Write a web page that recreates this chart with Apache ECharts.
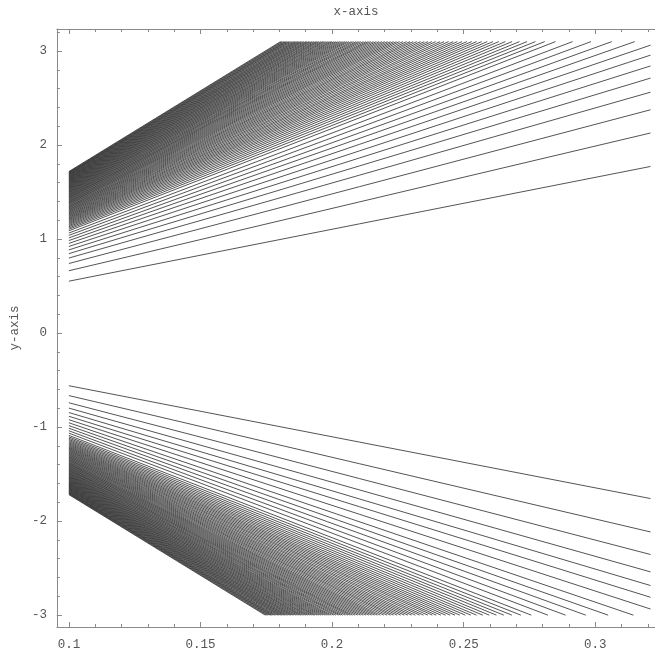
<!DOCTYPE html>
<html>
<head>
<meta charset="utf-8">
<script src="https://cdn.jsdelivr.net/npm/echarts@6/dist/echarts.min.js"></script>
<style>
html, body { margin: 0; padding: 0; background: #ffffff; }
#chart { width: 655px; height: 653px; }
</style>
</head>
<body>
<div id="chart"></div>
<script>
// ---------- data ----------
// every curve starts at x = 0.1
const startX = 0.1;
// right end of the curves that are not cut off
const rightX = 0.321;

// upper family: y at x = 0.1 (from the lowest curve to the highest)
const upperStartY = [0.552, 0.663, 0.740, 0.798, 0.845, 0.885, 0.921, 0.954, 0.984, 1.012,
  1.039, 1.064, 1.088,
  1.104, 1.118, 1.131, 1.143, 1.155, 1.166, 1.177, 1.187, 1.197, 1.207,
  1.216, 1.225, 1.234, 1.243, 1.252,
  1.260, 1.269, 1.278, 1.286, 1.295, 1.303, 1.311, 1.319, 1.327, 1.335,
  1.343, 1.350, 1.358, 1.366, 1.374, 1.381, 1.388, 1.395, 1.402, 1.409,
  1.416, 1.423, 1.430, 1.437, 1.444, 1.450, 1.456, 1.463, 1.470, 1.476,
  1.482, 1.489, 1.495, 1.502, 1.508, 1.514, 1.520, 1.526, 1.532, 1.538,
  1.544, 1.550, 1.555, 1.561, 1.567, 1.573, 1.578, 1.584, 1.590, 1.595,
  1.600, 1.606, 1.611, 1.617, 1.622, 1.627, 1.632, 1.638, 1.643, 1.648,
  1.653, 1.658, 1.663, 1.668, 1.673, 1.679, 1.684, 1.689, 1.694, 1.698,
  1.703, 1.708, 1.713, 1.718];
// y at the right edge for the first curves (they reach it)
const upperRightY = [1.772, 2.128, 2.375, 2.562, 2.712, 2.841, 2.956, 3.062];
// the other curves stop at the cut level; x where they stop
const upperCut = 3.1;
const upperHitX = [0.3150, 0.3063, 0.2984, 0.2914, 0.2849,
  0.28080, 0.27728, 0.27409, 0.27122, 0.26840, 0.26587, 0.26338, 0.26116, 0.25898, 0.25684,
  0.25493, 0.25306, 0.25122, 0.24940, 0.24760,
  0.24603, 0.24429, 0.24257, 0.24106, 0.23938, 0.23791, 0.23646, 0.23503, 0.23361, 0.23221,
  0.23083, 0.22963, 0.22828, 0.22694, 0.22562, 0.22447, 0.22334, 0.22222, 0.22111, 0.22001,
  0.21893, 0.21785, 0.21678, 0.21573, 0.21468, 0.21379, 0.21291, 0.21189, 0.21088, 0.21003,
  0.20918, 0.20819, 0.20736, 0.20639, 0.20557, 0.20476, 0.20395, 0.20315, 0.20235, 0.20156,
  0.20078, 0.20000, 0.19936, 0.19859, 0.19783, 0.19707, 0.19645, 0.19571, 0.19497, 0.19436,
  0.19375, 0.19303, 0.19243, 0.19171, 0.19112, 0.19053, 0.18995, 0.18926, 0.18868, 0.18811,
  0.18754, 0.18697, 0.18641, 0.18585, 0.18530, 0.18463, 0.18409, 0.18354, 0.18300, 0.18257,
  0.18203, 0.18150, 0.18097, 0.18044];

// lower family
const lowerStartY = [-0.560, -0.665, -0.741, -0.798, -0.845, -0.885, -0.921, -0.954, -0.984, -1.012,
  -1.039, -1.064, -1.088,
  -1.104, -1.118, -1.131, -1.143, -1.155, -1.166, -1.177, -1.187, -1.197, -1.207,
  -1.216, -1.225, -1.234, -1.243, -1.252,
  -1.260, -1.269, -1.278, -1.286, -1.295, -1.303, -1.311, -1.319, -1.327, -1.335,
  -1.343, -1.350, -1.358, -1.366, -1.374, -1.381, -1.388, -1.395, -1.402, -1.409,
  -1.416, -1.423, -1.430, -1.437, -1.444, -1.450, -1.456, -1.463, -1.470, -1.476,
  -1.482, -1.489, -1.495, -1.502, -1.508, -1.514, -1.520, -1.526, -1.532, -1.538,
  -1.544, -1.550, -1.555, -1.561, -1.567, -1.573, -1.578, -1.584, -1.590, -1.595,
  -1.600, -1.606, -1.611, -1.617, -1.622, -1.627, -1.632, -1.638, -1.643, -1.648,
  -1.653, -1.658, -1.663, -1.668, -1.673, -1.679, -1.684, -1.689, -1.694, -1.698,
  -1.703, -1.708, -1.713, -1.718];
const lowerRightY = [-1.760, -2.115, -2.355, -2.540, -2.685, -2.810, -2.935];
const lowerCut = -3.0;
const lowerHitX = [0.3145, 0.3049, 0.2964, 0.2887, 0.2820, 0.2757,
  0.27174, 0.26833, 0.26525, 0.26247, 0.25974, 0.25729, 0.25489, 0.25274, 0.25063, 0.24855,
  0.24671, 0.24490, 0.24311, 0.24135, 0.23961,
  0.23809, 0.23641, 0.23475, 0.23328, 0.23166, 0.23024, 0.22883, 0.22745, 0.22607, 0.22472,
  0.22338, 0.22222, 0.22091, 0.21962, 0.21834, 0.21723, 0.21614, 0.21505, 0.21398, 0.21291,
  0.21186, 0.21082, 0.20979, 0.20877, 0.20776, 0.20690, 0.20604, 0.20506, 0.20408, 0.20325,
  0.20243, 0.20148, 0.20067, 0.19973, 0.19894, 0.19815, 0.19737, 0.19659, 0.19582, 0.19506,
  0.19430, 0.19355, 0.19293, 0.19218, 0.19145, 0.19071, 0.19011, 0.18940, 0.18868, 0.18809,
  0.18750, 0.18680, 0.18622, 0.18553, 0.18495, 0.18439, 0.18382, 0.18316, 0.18259, 0.18204,
  0.18149, 0.18094, 0.18040, 0.17986, 0.17932, 0.17867, 0.17815, 0.17762, 0.17710, 0.17668,
  0.17616, 0.17565, 0.17513, 0.17462];

// tick labels
const xTickLabels = [0.1, 0.15, 0.2, 0.25, 0.3];
const xMinorTicks = [0.1, 0.11, 0.12, 0.13, 0.14, 0.15, 0.16, 0.17, 0.18, 0.19, 0.2,
  0.21, 0.22, 0.23, 0.24, 0.25, 0.26, 0.27, 0.28, 0.29, 0.3, 0.31, 0.32];
const yTickLabels = [-3, -2, -1, 0, 1, 2, 3];
const yMinorTicks = [-3, -2.8, -2.6, -2.4, -2.2, -2, -1.8, -1.6, -1.4, -1.2, -1, -0.8, -0.6, -0.4, -0.2,
  0, 0.2, 0.4, 0.6, 0.8, 1, 1.2, 1.4, 1.6, 1.8, 2, 2.2, 2.4, 2.6, 2.8, 3, 3.2];
const xRange = [0.09545, 0.3227];
const yRange = [-3.126, 3.234];

// ---------- chart ----------
const FONT = '"Liberation Mono", "DejaVu Sans Mono", monospace';
const AXIS_COLOR = '#8a8a8a';
const TEXT_COLOR = '#555555';
const LINE_COLOR = '#363636';

function curveSeries(startY, rightY, hitX, cut) {
  return startY.map(function (y0, i) {
    const end = i < rightY.length ? [rightX, rightY[i]] : [hitX[i - rightY.length], cut];
    return {
      type: 'line',
      xAxisIndex: 0,
      yAxisIndex: 0,
      data: [[startX, y0], end],
      showSymbol: false,
      symbol: 'none',
      silent: true,
      animation: false,
      lineStyle: { color: LINE_COLOR, width: 1, opacity: 0.85 }
    };
  });
}

const series = curveSeries(upperStartY, upperRightY, upperHitX, upperCut)
  .concat(curveSeries(lowerStartY, lowerRightY, lowerHitX, lowerCut));

function xAx(pos, ticks, len, showLine, labels, name) {
  return {
    type: 'value', position: pos, min: xRange[0], max: xRange[1],
    axisLine: { show: showLine, onZero: false, lineStyle: { color: AXIS_COLOR, width: 1 } },
    axisTick: { show: true, inside: true, length: len, customValues: ticks, lineStyle: { color: AXIS_COLOR } },
    axisLabel: labels ? {
      show: true, customValues: labels, margin: 11, color: TEXT_COLOR,
      fontFamily: FONT, fontSize: 12.5, formatter: function (v) { return String(Number(v.toFixed(3))); }
    } : { show: false },
    splitLine: { show: false },
    name: name || '', nameLocation: 'middle', nameGap: 11,
    nameTextStyle: { color: TEXT_COLOR, fontFamily: FONT, fontSize: 12.5 }
  };
}
function yAx(ticks, len, showLine, labels, name) {
  return {
    type: 'value', position: 'left', min: yRange[0], max: yRange[1],
    axisLine: { show: showLine, onZero: false, lineStyle: { color: AXIS_COLOR, width: 1 } },
    axisTick: { show: true, inside: true, length: len, customValues: ticks, lineStyle: { color: AXIS_COLOR } },
    axisLabel: labels ? {
      show: true, customValues: labels, margin: 10, color: TEXT_COLOR,
      fontFamily: FONT, fontSize: 12.5, formatter: function (v) { return String(Math.round(v)); }
    } : { show: false },
    splitLine: { show: false },
    name: name || '', nameLocation: 'middle', nameGap: 26, nameRotate: 90,
    nameTextStyle: { color: TEXT_COLOR, fontFamily: FONT, fontSize: 12.5 }
  };
}

const chart = echarts.init(document.getElementById('chart'), null, { renderer: 'canvas' });
chart.setOption({
  backgroundColor: '#ffffff',
  animation: false,
  grid: { left: 55, top: 28, right: 0, bottom: 26, containLabel: false, show: false },
  xAxis: [
    xAx('bottom', xTickLabels, 5, true, xTickLabels, ''),
    xAx('bottom', xMinorTicks, 3, false, null, ''),
    xAx('top', xTickLabels, 5, true, null, 'x-axis'),
    xAx('top', xMinorTicks, 3, false, null, '')
  ],
  yAxis: [
    yAx(yTickLabels, 5, true, yTickLabels, 'y-axis'),
    yAx(yMinorTicks, 3, false, null, '')
  ],
  series: series
});
</script>
</body>
</html>
